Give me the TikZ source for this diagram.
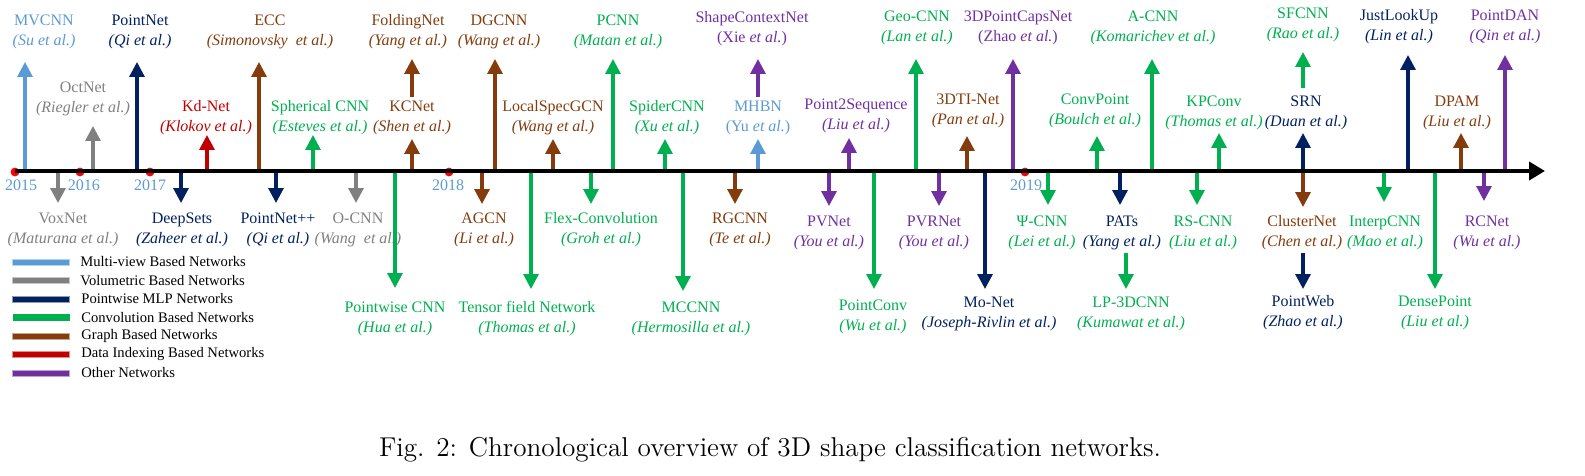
\documentclass[tikz,border=0pt]{standalone}
\usepackage{fontspec}
\newfontfamily\timesfont{Liberation Serif}
\usetikzlibrary{arrows.meta}
\definecolor{mvblue}{HTML}{5B9BD5}
\definecolor{volgray}{HTML}{808080}
\definecolor{mlpnavy}{HTML}{002060}
\definecolor{convgreen}{HTML}{00B050}
\definecolor{graphbrown}{HTML}{843C0C}
\definecolor{idxred}{HTML}{C00000}
\definecolor{otherpurple}{HTML}{7030A0}
% name, x, start y, tip y, label x, label y, colour, title, authors
\newcommand{\netarrow}[9]{%
  \coordinate (#1-o) at (#2,#3);
  \coordinate (#1-e) at (#2,#4);
  \node[lab,text=#7] (#1) at (#5,#6) {#8\\#9};
  \draw[arr,#7] (#1-o) -- (#1-e);
}
\begin{document}
\begin{tikzpicture}[x=0.5pt,y=-0.5pt,
    lab/.style={font=\timesfont\fontsize{8}{10}\selectfont,align=center,inner sep=0pt},
    arr/.style={line width=1.6pt,-{Triangle[width=7.5pt,length=7.5pt]}},
    dot/.style={circle,fill=red,inner sep=0pt,minimum size=4.4pt},
    yearlab/.style={font=\timesfont\fontsize{8}{10}\selectfont,text=mvblue,inner sep=0pt},
    swatch/.style={minimum width=28.5pt,minimum height=3pt,inner sep=0pt,line width=0.4pt},
    legtext/.style={font=\timesfont\fontsize{7.3}{9}\selectfont,anchor=west,inner sep=0pt}]
  \useasboundingbox (0,0) rectangle (1585,476);

  % above the time line
  \netarrow{mvcnn}{25}{171}{62}{44}{32}{mvblue}{MVCNN}{\textit{(Su et al.)}}
  \netarrow{octnet}{93}{171}{126}{83}{99}{volgray}{OctNet}{\textit{(Riegler et al.)}}
  \netarrow{pointnet}{137}{171}{62}{140}{32}{mlpnavy}{PointNet}{\textit{(Qi et al.)}}
  \netarrow{kdnet}{207}{171}{135}{206}{118}{idxred}{Kd-Net}{\textit{(Klokov et al.)}}
  \netarrow{ecc}{259}{171}{62}{270}{32}{graphbrown}{ECC}{\textit{(Simonovsky~ et al.)}}
  \netarrow{sphcnn}{313}{171}{135}{320}{118}{convgreen}{Spherical CNN}{\textit{(Esteves et al.)}}
  \netarrow{kcnet}{412}{171}{139}{412}{118}{graphbrown}{KCNet}{\textit{(Shen et al.)}}
  \netarrow{foldingnet}{412}{97}{59}{408}{32}{graphbrown}{FoldingNet}{\textit{(Yang et al.)}}
  \netarrow{dgcnn}{495}{171}{59}{499}{32}{graphbrown}{DGCNN}{\textit{(Wang et al.)}}
  \netarrow{localspec}{553}{171}{139}{553}{118}{graphbrown}{LocalSpecGCN}{\textit{(Wang et al.)}}
  \netarrow{pcnn}{613}{171}{59}{618}{32}{convgreen}{PCNN}{\textit{(Matan et al.)}}
  \netarrow{spidercnn}{665}{171}{139}{667}{118}{convgreen}{SpiderCNN}{\textit{(Xu et al.)}}
  \netarrow{mhbn}{758}{171}{139}{758}{118}{mvblue}{MHBN}{(Yu \textit{et al.})}
  \netarrow{scnet}{758}{97}{59}{752}{29}{otherpurple}{ShapeContextNet}{(Xie \textit{et al.})}
  \netarrow{ptseq}{849}{171}{138}{856}{116}{otherpurple}{Point2Sequence}{\textit{(Liu et al.)}}
  \netarrow{geocnn}{916}{171}{59}{917}{28}{convgreen}{Geo-CNN}{\textit{(Lan et al.)}}
  \netarrow{dtinet}{967}{171}{136}{968}{111}{graphbrown}{3DTI-Net}{\textit{(Pan et al.)}}
  \netarrow{capsnet}{1013}{171}{59}{1018}{28}{otherpurple}{3DPointCapsNet}{(Zhao \textit{et al.})}
  \netarrow{convpoint}{1097}{171}{136}{1095}{111}{convgreen}{ConvPoint}{\textit{(Boulch et al.)}}
  \netarrow{acnn}{1152}{171}{59}{1153}{28}{convgreen}{A-CNN}{\textit{(Komarichev et al.)}}
  \netarrow{kpconv}{1219}{171}{133}{1214}{113}{convgreen}{KPConv}{\textit{(Thomas et al.)}}
  \netarrow{srn}{1303}{171}{133}{1306}{113}{mlpnavy}{SRN}{\textit{(Duan et al.)}}
  \netarrow{sfcnn}{1303}{88}{52}{1303}{25}{convgreen}{SFCNN}{\textit{(Rao et al.)}}
  \netarrow{justlookup}{1408}{171}{55}{1399}{27}{mlpnavy}{JustLookUp}{\textit{(Lin et al.)}}
  \netarrow{dpam}{1461}{171}{133}{1457}{113}{graphbrown}{DPAM}{\textit{(Liu et al.)}}
  \netarrow{pointdan}{1505}{171}{55}{1505}{27}{otherpurple}{PointDAN}{\textit{(Qin et al.)}}

  % below the time line
  \netarrow{voxnet}{58}{171}{203}{63}{230}{volgray}{VoxNet}{\textit{(Maturana et al.)}}
  \netarrow{deepsets}{181}{171}{203}{182}{230}{mlpnavy}{DeepSets}{\textit{(Zaheer et al.)}}
  \netarrow{pointnetpp}{276}{171}{203}{278}{230}{mlpnavy}{PointNet++}{\textit{(Qi et al.)}}
  \netarrow{ocnn}{356}{171}{203}{358}{230}{volgray}{O-CNN}{\textit{(Wang~ et al.)}}
  \netarrow{pwcnn}{395}{171}{288}{395}{319}{convgreen}{Pointwise CNN}{\textit{(Hua et al.)}}
  \netarrow{agcn}{482}{171}{204}{484}{230}{graphbrown}{AGCN}{\textit{(Li et al.)}}
  \netarrow{tfnet}{531}{171}{289}{527}{319}{convgreen}{Tensor field Network}{\textit{(Thomas et al.)}}
  \netarrow{flexconv}{591}{171}{204}{601}{230}{convgreen}{Flex-Convolution}{\textit{(Groh et al.)}}
  \netarrow{mccnn}{683}{171}{291}{691}{319}{convgreen}{MCCNN}{\textit{(Hermosilla et al.)}}
  \netarrow{rgcnn}{735}{171}{204}{740}{230}{graphbrown}{RGCNN}{\textit{(Te et al.)}}
  \netarrow{pvnet}{829}{171}{206}{829}{233}{otherpurple}{PVNet}{\textit{(You et al.)}}
  \netarrow{pointconv}{874}{171}{289}{873}{317}{convgreen}{PointConv}{\textit{(Wu et al.)}}
  \netarrow{pvrnet}{939}{171}{206}{934}{233}{otherpurple}{PVRNet}{\textit{(You et al.)}}
  \netarrow{monet}{985}{171}{289}{989}{314}{mlpnavy}{Mo-Net}{\textit{(Joseph-Rivlin et al.)}}
  \netarrow{psicnn}{1048}{171}{205}{1042}{233}{convgreen}{Ψ-CNN}{\textit{(Lei et al.)}}
  \netarrow{pats}{1120}{171}{205}{1122}{233}{mlpnavy}{PATs}{\textit{(Yang et al.)}}
  \netarrow{lpcnn}{1126}{253}{289}{1131}{314}{convgreen}{LP-3DCNN}{\textit{(Kumawat et al.)}}
  \netarrow{rscnn}{1197}{171}{205}{1203}{233}{convgreen}{RS-CNN}{\textit{(Liu et al.)}}
  \netarrow{clusternet}{1303}{171}{207}{1302}{233}{graphbrown}{ClusterNet}{\textit{(Chen et al.)}}
  \netarrow{pointweb}{1303}{253}{289}{1303}{313}{mlpnavy}{PointWeb}{\textit{(Zhao et al.)}}
  \netarrow{interpcnn}{1384}{171}{202}{1385}{233}{convgreen}{InterpCNN}{\textit{(Mao et al.)}}
  \netarrow{densepoint}{1435}{171}{289}{1435}{313}{convgreen}{DensePoint}{\textit{(Liu et al.)}}
  \netarrow{rcnet}{1484}{171}{201}{1487}{233}{otherpurple}{RCNet}{\textit{(Wu et al.)}}

  % time line with years
  \node[dot] (y2015) at (15,172) {};
  \node[dot] (y2016) at (80,172) {};
  \node[dot] (y2017) at (150,172) {};
  \node[dot] (y2018) at (449,172) {};
  \node[dot] (y2019) at (1025,172) {};
  \coordinate (axstart) at (15,171);
  \coordinate (axend) at (1545,171);
  \draw[line width=2pt,-{Triangle[width=9pt,length=8pt]}] (axstart) -- (axend);
  \node[yearlab] (t2015) at (21,185) {2015};
  \node[yearlab] (t2016) at (84,185) {2016};
  \node[yearlab] (t2017) at (150,185) {2017};
  \node[yearlab] (t2018) at (448,185) {2018};
  \node[yearlab] (t2019) at (1026,185) {2019};

  % legend
  \node[swatch,fill=mvblue,draw=mvblue!45] (lg1) at (41,262) {};
  \node[swatch,fill=volgray,draw=volgray!45] (lg2) at (41,280.5) {};
  \node[swatch,fill=mlpnavy,draw=mlpnavy!45] (lg3) at (41,299) {};
  \node[swatch,fill=convgreen,minimum height=3.6pt] (lg4) at (41,317.5) {};
  \node[swatch,fill=graphbrown,draw=graphbrown!45] (lg5) at (41,336) {};
  \node[swatch,fill=idxred,draw=idxred!45] (lg6) at (41,354.5) {};
  \node[swatch,fill=otherpurple,draw=otherpurple!45] (lg7) at (41,373) {};
  \node[legtext] (lt1) at (80,262) {Multi-view Based Networks};
  \node[legtext] (lt2) at (80,280.5) {Volumetric Based Networks};
  \node[legtext] (lt3) at (81,299) {Pointwise MLP Networks};
  \node[legtext] (lt4) at (81,317.5) {Convolution Based Networks};
  \node[legtext] (lt5) at (81,336) {Graph Based Networks};
  \node[legtext] (lt6) at (81,354.5) {Data Indexing Based Networks};
  \node[legtext] (lt7) at (81,373) {Other Networks};

  \node[font=\fontsize{13.6}{15}\selectfont,inner sep=0pt] (caption) at (770,450)
    {Fig. 2: Chronological overview of 3D shape classification networks.};
\end{tikzpicture}
\end{document}
